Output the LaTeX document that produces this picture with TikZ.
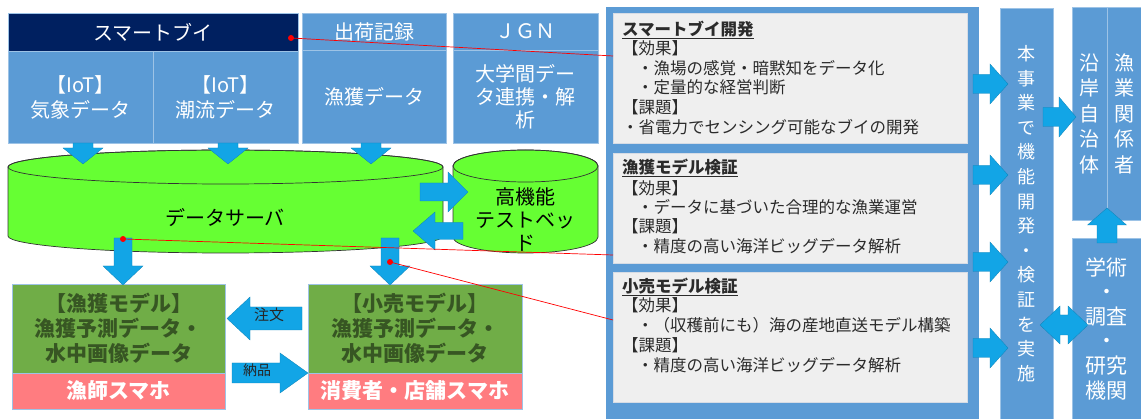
\documentclass[tikz,border=0pt]{standalone}
\usepackage{fontspec}
\newfontfamily\jp{Noto Sans CJK JP}
\usetikzlibrary{calc}
\definecolor{navy}{HTML}{002060}
\definecolor{boxblue}{HTML}{5B9BD5}
\definecolor{boxedge}{HTML}{9DC3E6}
\definecolor{arrowblue}{HTML}{12A5E6}
\definecolor{cylgreen}{HTML}{66FF33}
\definecolor{modelgreen}{HTML}{70AD47}
\definecolor{modeltext}{HTML}{375623}
\definecolor{pinkbox}{HTML}{FF7C80}
\definecolor{panelgray}{HTML}{EFEFEF}
\definecolor{paneledge}{HTML}{D6DCE5}
\definecolor{paneltext}{HTML}{2B2B2B}
\begin{document}
\begin{tikzpicture}[x=1pt,y=-1pt,
  box/.style={inner sep=0pt, outer sep=0pt, anchor=north west, align=center},
  bluebox/.style={box, fill=boxblue, draw=boxedge, line width=0.8pt, text=white, font=\jp\fontsize{20}{25}\selectfont},
  navybox/.style={bluebox, fill=navy},
  modelbox/.style={box, fill=modelgreen, draw=boxedge, line width=0.8pt, text=modeltext, font=\jp\bfseries\fontsize{21}{25}\selectfont},
  phonebox/.style={box, fill=pinkbox, draw=boxedge, line width=0.8pt, text=white, font=\jp\bfseries\fontsize{21}{25}\selectfont},
  panel/.style={box, fill=panelgray, draw=paneledge, line width=0.8pt},
  ptext/.style={inner sep=0pt, anchor=west, text=paneltext, font=\jp\fontsize{16.5}{20}\selectfont},
  cylshape/.style={fill=cylgreen, draw=black!80, line width=0.7pt},
  cyltext/.style={inner sep=0pt, align=center, text=black, font=\jp\fontsize{20}{23}\selectfont},
  redline/.style={draw=red, line width=0.7pt},
  reddot/.style={circle, fill=red, inner sep=0pt, minimum size=6pt},
  albl/.style={inner sep=0pt, text=black!85, font=\jp\fontsize{15}{18}\selectfont},
  pics/barr/.style n args={4}{code={
    \fill[arrowblue, draw=arrowblue!80!black, line width=0.3pt]
      (0,-#2) -- ({#1-#4},-#2) -- ({#1-#4},-#3) -- (#1,0) -- ({#1-#4},#3) -- ({#1-#4},#2) -- (0,#2) -- cycle;
  }},
  pics/dbarr/.style n args={4}{code={
    \fill[arrowblue, draw=arrowblue!80!black, line width=0.3pt]
      (0,0) -- (#4,-#3) -- (#4,-#2) -- ({#1-#4},-#2) -- ({#1-#4},-#3) -- (#1,0) -- ({#1-#4},#3) -- ({#1-#4},#2) -- (#4,#2) -- (#4,#3) -- cycle;
  }}
]
\useasboundingbox (0,0) rectangle (1141,419);
\fill[white] (0,0) rectangle (1141,419);

% ---------- top-left data sources ----------
\node[navybox, minimum width=290pt, minimum height=38pt] (buoy) at (8,13) {スマートブイ};
\node[bluebox, minimum width=145pt, minimum height=92pt] (kisho) at (8,51) {【IoT】\\気象データ};
\node[bluebox, minimum width=145pt, minimum height=92pt] (choryu) at (153,51) {【IoT】\\潮流データ};
\node[bluebox, minimum width=144pt, minimum height=37pt] (shukka) at (302,13) {出荷記録};
\node[bluebox, minimum width=144pt, minimum height=93pt] (gyokaku) at (302,50) {漁獲データ};
\node[bluebox, minimum width=145pt, minimum height=37pt] (jgn) at (453,13) {ＪＧＮ};
\node[bluebox, minimum width=145pt, minimum height=93pt, font=\jp\fontsize{20}{23}\selectfont] (univ) at (453,50) {大学間デー\\タ連携・解\\析};

% ---------- cylinders ----------
\filldraw[cylshape] (8,167) -- (8,236) arc[start angle=180,end angle=0,x radius=217.5,y radius=17] -- (443,167) arc[start angle=0,end angle=-180,x radius=217.5,y radius=17] -- cycle;
\draw[cylshape, fill=none] (225.5,167) ellipse[x radius=217.5,y radius=17];
\node[cyltext] (server) at (225,218) {データサーバ};

\filldraw[cylshape] (453,166) -- (453,237) arc[start angle=180,end angle=0,x radius=72.5,y radius=16] -- (598,166) arc[start angle=0,end angle=-180,x radius=72.5,y radius=16] -- cycle;
\draw[cylshape, fill=none] (525.5,166) ellipse[x radius=72.5,y radius=16];
\node[cyltext] (testbed) at (525,220) {高機能\\テストベッ\\ド};

% ---------- bottom models ----------
\node[modelbox, minimum width=213pt, minimum height=89pt] (gmodel) at (12,284) {【漁獲モデル】\\漁獲予測データ・\\水中画像データ};
\node[phonebox, minimum width=213pt, minimum height=36pt] (gphone) at (12,373) {漁師スマホ};
\node[modelbox, minimum width=214pt, minimum height=89pt] (rmodel) at (308,284) {【小売モデル】\\漁獲予測データ・\\水中画像データ};
\node[phonebox, minimum width=214pt, minimum height=36pt] (rphone) at (308,373) {消費者・店舗スマホ};

% ---------- right panels ----------
\node[box, fill=boxblue, minimum width=373pt, minimum height=412pt] (frame) at (606,7) {};
\node[panel, minimum width=354pt, minimum height=130pt] (p1) at (613,13) {};
\node[panel, minimum width=354pt, minimum height=110pt] (p2) at (613,153) {};
\node[panel, minimum width=354pt, minimum height=130pt] (p3) at (613,272) {};

\node[ptext] (p1t) at (622,30) {\bfseries\underline{スマートブイ開発}};
\node[ptext] (p1a) at (622,48) {【効果】};
\node[ptext] (p1b) at (637,68) {・漁場の感覚・暗黙知をデータ化};
\node[ptext] (p1c) at (637,87) {・定量的な経営判断};
\node[ptext] (p1d) at (622,107) {【課題】};
\node[ptext] (p1e) at (622,127) {・省電力でセンシング可能なブイの開発};

\node[ptext] (p2t) at (622,168) {\bfseries\underline{漁獲モデル検証}};
\node[ptext] (p2a) at (622,188) {【効果】};
\node[ptext] (p2b) at (637,207) {・データに基づいた合理的な漁業運営};
\node[ptext] (p2d) at (622,226) {【課題】};
\node[ptext] (p2e) at (637,246) {・精度の高い海洋ビッグデータ解析};

\node[ptext] (p3t) at (622,287) {\bfseries\underline{小売モデル検証}};
\node[ptext] (p3a) at (622,305) {【効果】};
\node[ptext] (p3b) at (637,325) {・（収穫前にも）海の産地直送モデル構築};
\node[ptext] (p3d) at (622,345) {【課題】};
\node[ptext] (p3e) at (637,365) {・精度の高い海洋ビッグデータ解析};

% ---------- far right ----------
\node[bluebox, minimum width=53pt, minimum height=411pt, font=\jp\fontsize{18}{24.6}\selectfont] (impl) at (1000,8) {本\\事\\業\\で\\機\\能\\開\\発\\・\\検\\証\\を\\実\\施};
\node[bluebox, minimum width=35pt, minimum height=213pt, font=\jp\fontsize{20}{25.5}\selectfont] (engan) at (1072,7) {沿\\岸\\自\\治\\体};
\node[bluebox, minimum width=34pt, minimum height=213pt, font=\jp\fontsize{20}{25.5}\selectfont] (gyogyo) at (1107,7) {漁\\業\\関\\係\\者};
\node[bluebox, minimum width=69pt, minimum height=181pt, font=\jp\fontsize{21}{24.6}\selectfont] (gakujutsu) at (1072,238) {学術\\・\\調査\\・\\研究\\機関};

% ---------- block arrows (length, shaft half, head half, head length) ----------
\coordinate (a1) at (kisho.south -| 83,0);
\coordinate (a2) at (choryu.south -| 228,0);
\coordinate (a3) at (gyokaku.south -| 371,0);
\pic[rotate=-90] at (a1) {barr={21}{10}{20}{16}};
\pic[rotate=-90] at (a2) {barr={21}{10}{20}{16}};
\pic[rotate=-90] at (a3) {barr={21}{10}{20}{16}};

\coordinate (s2t) at (420,192);
\coordinate (t2s) at (463,231);
\pic at (s2t) {barr={48}{9}{20}{20}};
\pic[rotate=180] at (t2s) {barr={50}{8.5}{19}{22}};

\coordinate (sdl) at (123,238);
\coordinate (sdr) at (390,238);
\pic[rotate=-90] at (sdl) {barr={47}{9}{20}{19}};
\pic[rotate=-90] at (sdr) {barr={47}{9}{20}{19}};

\coordinate (oa) at (302,318.5);
\pic[rotate=180] at (oa) {barr={75}{11.5}{21.5}{23}};
\node[albl] (chumon) at (269,315) {注文};
\coordinate (na) at (232,373);
\pic at (na) {barr={76}{10}{20}{28}};
\node[albl, font=\jp\fontsize{14}{17}\selectfont] (nohin) at (257,370) {納品};

\foreach \yy in {84,175,262,348}{
  \pic at (973,\yy) {barr={35}{9.5}{20}{18}};
}
\coordinate (ie) at (1043,117);
\pic at (ie) {barr={33}{9.5}{20}{17}};
\coordinate (gu) at (1107,243);
\pic[rotate=90] at (gu) {barr={35}{10}{19.5}{17}};
\coordinate (db) at (1040,325);
\pic at (db) {dbarr={48}{10}{19}{20}};

% ---------- red pointers ----------
\node[reddot] (d1) at (291,38) {};
\node[reddot] (d2) at (123,239) {};
\node[reddot] (d3) at (390,262) {};
\coordinate (e1) at (613,56);
\coordinate (e2) at (613,255);
\coordinate (e3) at (613,320);
\draw[redline] (d1.center) -- (e1);
\draw[redline] (d2.center) -- (e2);
\draw[redline] (d3.center) -- (e3);
\end{tikzpicture}
\end{document}
